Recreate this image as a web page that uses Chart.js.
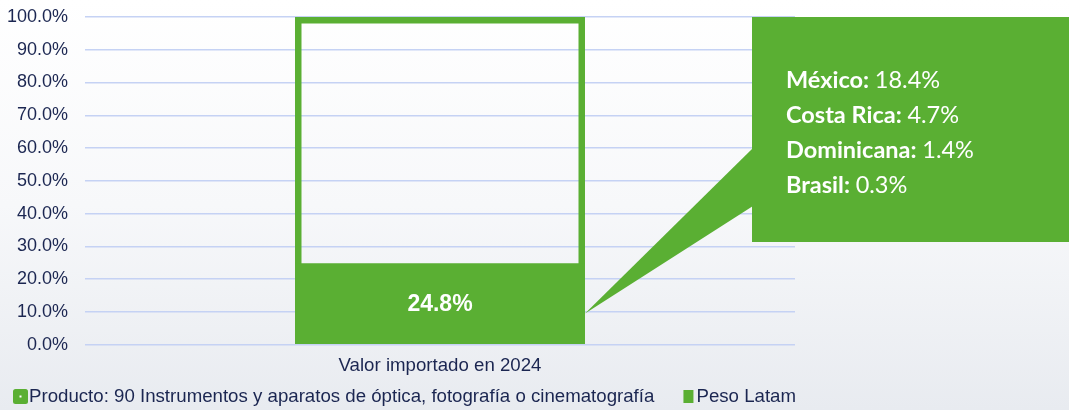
<!DOCTYPE html>
<html>
<head>
<meta charset="utf-8">
<script src="https://cdn.jsdelivr.net/npm/chart.js@4.4.1/dist/chart.umd.min.js"></script>
<style>
  html, body { margin: 0; padding: 0; }
  body { width: 1069px; height: 410px; background: linear-gradient(to bottom, #ffffff 0%, #f7f8fa 50%, #e8ebf0 100%); overflow: hidden; }
  canvas { display: block; }
</style>
</head>
<body>
<canvas id="c" width="1069" height="410"></canvas>
<script>
// ---- data ----
const categories = ['Valor importado en 2024'];
const productoLabel = 'Producto: 90 Instrumentos y aparatos de óptica, fotografía o cinematografía';
const productoValues = [100];
const pesoLabel = 'Peso Latam';
const pesoValues = [24.8];
const yTickLabels = ['0.0%', '10.0%', '20.0%', '30.0%', '40.0%', '50.0%', '60.0%', '70.0%', '80.0%', '90.0%', '100.0%'];
const calloutCountries = ['México', 'Costa Rica', 'Dominicana', 'Brasil'];
const calloutShares = ['18.4%', '4.7%', '1.4%', '0.3%'];
const calloutPointerValue = 9.5;

const GREEN = '#5aaf33';
const NAVY = '#1b2651';
const FONT = '"Liberation Sans", Arial, sans-serif';

const barLabelPlugin = {
  id: 'barLabel',
  afterDatasetsDraw(chart) {
    const meta = chart.getDatasetMeta(1);
    const ctx = chart.ctx;
    ctx.save();
    ctx.fillStyle = '#ffffff';
    ctx.font = 'bold 23px ' + FONT;
    ctx.textAlign = 'center';
    ctx.textBaseline = 'middle';
    meta.data.forEach((el, i) => {
      const cy = (el.y + el.base) / 2;
      ctx.fillText(pesoValues[i].toFixed(1) + '%', el.x, cy + 1);
    });
    ctx.restore();
  }
};

const calloutPlugin = {
  id: 'callout',
  afterDatasetsDraw(chart) {
    const ctx = chart.ctx;
    const el = chart.getDatasetMeta(0).data[0];
    const tipX = el.x + el.width / 2;
    const tipY = chart.scales.y.getPixelForValue(calloutPointerValue);
    const bx = 752, by = 17, bw = 1069 - 752, bh = 225;
    ctx.save();
    ctx.fillStyle = GREEN;
    ctx.fillRect(bx, by, bw, bh);
    ctx.beginPath();
    ctx.moveTo(bx + 1, 148);
    ctx.lineTo(bx + 1, 206);
    ctx.lineTo(tipX, tipY);
    ctx.closePath();
    ctx.fill();
    ctx.fillStyle = '#ffffff';
    ctx.textBaseline = 'alphabetic';
    ctx.textAlign = 'left';
    calloutCountries.forEach((c, i) => {
      const y = 87.5 + i * 35;
      ctx.font = 'bold 23.5px Lato, "Open Sans", sans-serif';
      const head = c + ': ';
      ctx.fillText(head, 786, y);
      const w = ctx.measureText(head).width;
      ctx.font = '23.5px Lato, "Open Sans", sans-serif';
      ctx.fillText(calloutShares[i], 786 + w, y);
    });
    ctx.restore();
  }
};

const legendPlugin = {
  id: 'customLegend',
  afterDraw(chart) {
    const ctx = chart.ctx;
    const ds = chart.data.datasets;
    const cy = 397;
    ctx.save();
    ctx.font = '18.67px ' + FONT;
    ctx.textBaseline = 'middle';
    ctx.textAlign = 'left';
    // item 1
    ctx.fillStyle = GREEN;
    ctx.beginPath();
    ctx.roundRect(13, 389, 15, 15, 2.5);
    ctx.fill();
    ctx.fillStyle = '#ffffff';
    ctx.fillRect(19.5, 395.5, 2, 2);
    ctx.fillStyle = NAVY;
    ctx.fillText(ds[0].label, 29, cy);
    // item 2, right aligned to chart area
    const w2 = ctx.measureText(ds[1].label).width;
    const tx = chart.chartArea.right + 1 - w2;
    ctx.fillStyle = GREEN;
    ctx.fillRect(tx - 13, 390, 10, 13);
    ctx.fillStyle = NAVY;
    ctx.fillText(ds[1].label, tx, cy);
    ctx.restore();
  }
};

new Chart(document.getElementById('c'), {
  type: 'bar',
  data: {
    labels: categories,
    datasets: [
      {
        label: productoLabel,
        data: productoValues,
        backgroundColor: 'rgba(255,255,255,0)',
        borderColor: GREEN,
        borderWidth: 6.5,
        borderSkipped: false,
        grouped: false,
        categoryPercentage: 1,
        barPercentage: 290 / 710,
        order: 2
      },
      {
        label: pesoLabel,
        data: pesoValues,
        backgroundColor: GREEN,
        borderWidth: 0,
        grouped: false,
        categoryPercentage: 1,
        barPercentage: 290 / 710,
        order: 1
      }
    ]
  },
  options: {
    responsive: false,
    animation: false,
    layout: { padding: { left: 7, right: 274, top: 17, bottom: 23 } },
    plugins: {
      legend: { display: false },
      tooltip: { enabled: false }
    },
    scales: {
      x: {
        grid: { display: false, drawTicks: false },
        border: { display: false },
        ticks: { color: NAVY, font: { family: FONT, size: 18.67 }, padding: 10 }
      },
      y: {
        min: 0,
        max: 100,
        grid: { color: '#c5d2f4', lineWidth: 1.4, drawTicks: false },
        border: { display: false },
        afterFit: (scale) => { scale.width = 78; scale.paddingTop = 0; scale.paddingBottom = 0; },
        ticks: {
          stepSize: 10,
          color: NAVY,
          font: { family: FONT, size: 18 },
          padding: 17,
          callback: (v, i) => yTickLabels[i]
        }
      }
    }
  },
  plugins: [barLabelPlugin, calloutPlugin, legendPlugin]
});
</script>
</body>
</html>
